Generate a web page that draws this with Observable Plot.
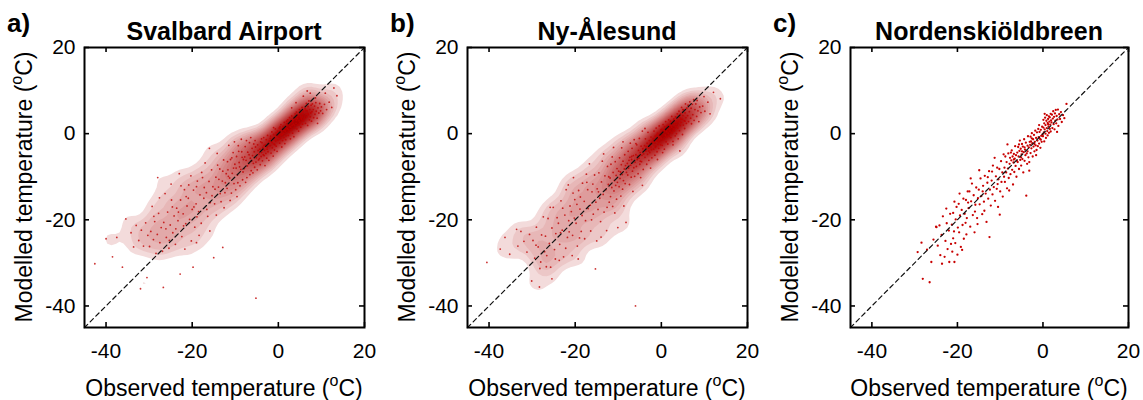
<!DOCTYPE html>
<html><head><meta charset="utf-8">
<script src="https://cdn.jsdelivr.net/npm/d3@7"></script>
<script src="https://cdn.jsdelivr.net/npm/@observablehq/plot@0.6"></script>
<style>
body{margin:0;background:#fff;}
#wrap{position:relative;width:1143px;height:400px;overflow:hidden;font-family:"Liberation Sans",Arial,sans-serif;}
#wrap svg{position:absolute;top:0;overflow:visible;}
</style></head><body><div id="wrap"></div>
<script>
// ---- axis / label values ----
const axisDomain = [-45, 20];
const tickValues = [-40, -20, 0, 20];
const panelLetters = ["a)", "b)", "c)"];
const stationNames = ["Svalbard Airport", "Ny-Ålesund", "Nordenskiöldbreen"];
const xTitleParts = ["Observed temperature (", "o", "C)"];
const yTitleParts = ["Modelled temperature (", "o", "C)"];
const oneToOne = [-45, 20];

// ---- data: [observed, modelled] (°C) ----
const svalbardAirport = [
[-5.8,-6.9],[-5.6,-4.2],[-5.5,-7.8],[-5.3,-3.1],[-5.1,-5.6],[-4.9,-8.4],[-4.8,-2.6],[-4.6,-6.1],[-4.5,-4.7],[-4.3,-3.6],[-4.2,-7.2],[-4.1,-1.9],[-4.0,-5.3],[-5.9,-9.1],[-5.7,-2.4],[-5.2,-6.6],[-4.7,-3.9],[-4.4,-5.8],[-6.0,-5.1],[-5.4,-1.6],
[-3.9,-4.4],[-3.8,-2.1],[-3.7,-6.3],[-3.6,-3.2],[-3.4,-0.9],[-3.3,-5.1],[-3.2,-3.9],[-3.1,-7.4],[-3.0,-2.6],[-2.9,-4.6],[-2.8,-1.4],[-2.7,-5.7],[-2.6,-3.1],[-2.5,-0.4],[-2.4,-4.2],[-2.3,-2.3],[-2.2,-6.2],[-2.1,-1.7],[-3.5,-4.9],[-3.9,-1.2],[-2.6,-3.6],[-3.3,-2.7],
[-1.9,-2.8],[-1.8,-0.6],[-1.7,-4.5],[-1.6,-1.9],[-1.5,0.4],[-1.4,-3.3],[-1.3,-1.2],[-1.2,-5.2],[-1.1,-0.2],[-1.0,-2.4],[-0.9,-3.8],[-0.8,-0.9],[-0.7,1.1],[-0.6,-1.7],[-0.5,-2.9],[-0.4,-0.4],[-0.3,-4.1],[-0.2,0.6],[-0.1,-1.5],[-1.9,-1.1],[-1.4,-2.1],[-0.8,-2.6],[-0.5,0.2],[-1.1,1.4],
[0.1,-0.8],[0.2,1.3],[0.3,-2.2],[0.4,0.2],[0.5,-1.1],[0.6,2.1],[0.7,-0.3],[0.8,-3.1],[0.9,0.9],[1.0,-1.6],[1.1,1.7],[1.2,0.1],[1.3,-0.9],[1.4,2.6],[1.5,-2.3],[1.6,0.6],[1.7,1.4],[1.8,-0.5],[1.9,2.9],[0.4,1.6],[0.9,-0.2],[1.3,0.8],[1.7,-1.4],[0.2,-0.1],
[2.1,1.1],[2.2,3.2],[2.3,-0.4],[2.4,2.1],[2.5,0.3],[2.6,3.7],[2.7,1.6],[2.8,-1.2],[2.9,2.5],[3.0,0.9],[3.1,4.1],[3.2,1.9],[3.3,0.1],[3.4,3.0],[3.5,2.2],[3.6,-0.7],[3.7,3.6],[3.8,1.3],[3.9,4.6],[2.4,0.9],[2.9,1.5],[3.3,2.7],[3.7,2.0],[2.0,2.3],
[4.1,2.4],[4.2,5.0],[4.3,1.1],[4.4,3.5],[4.5,2.0],[4.6,4.3],[4.7,0.6],[4.8,3.0],[4.9,5.6],[5.0,2.6],[5.1,3.9],[5.2,1.5],[5.3,4.7],[5.4,3.3],[5.5,6.1],[5.6,2.2],[5.7,4.1],[5.8,3.0],[5.9,5.3],[4.4,4.0],[4.9,2.1],[5.3,3.6],[5.7,5.0],[4.2,3.1],
[6.1,3.6],[6.2,5.8],[6.3,2.4],[6.4,4.6],[6.5,7.0],[6.6,3.9],[6.7,5.3],[6.8,1.9],[6.9,6.3],[7.0,4.4],[7.1,7.6],[7.2,3.2],[7.3,5.6],[7.4,9.4],[7.5,4.8],[7.6,6.6],[7.7,2.9],[7.8,5.1],[7.9,6.9],[6.4,5.4],[6.9,4.7],[7.4,3.9],
[8.1,5.6],[8.2,3.7],[8.4,6.4],[8.5,4.5],[8.7,7.2],[8.8,5.2],[9.0,3.6],[9.2,6.0],[9.4,4.8],[9.6,7.0],[9.8,5.3],[10.0,6.2],[8.6,8.3],[9.1,2.4],
[10.3,4.7],[10.7,6.8],[11.2,5.6],[11.8,7.3],[12.4,6.1],[12.9,10.6],[13.6,8.8],[10.9,9.4],[5.8,8.7],[6.7,9.9],[4.1,7.2],[3.1,6.0],
[-6.1,-3.4],[-6.3,-8.6],[-6.5,-5.7],[-6.7,-2.1],[-6.9,-7.0],[-7.1,-4.3],[-7.3,-10.2],[-7.5,-6.2],[-7.7,-3.0],[-7.9,-8.1],[-6.2,-6.4],[-6.8,-4.9],[-7.4,-1.6],[-7.8,-5.4],[-6.6,-9.5],[-7.2,-7.5],[-6.4,-0.9],[-7.6,-11.3],
[-8.1,-6.0],[-8.3,-10.7],[-8.5,-4.2],[-8.7,-8.3],[-8.9,-12.1],[-9.1,-6.7],[-9.3,-2.8],[-9.5,-9.6],[-9.7,-5.3],[-9.9,-13.0],[-8.2,-8.9],[-8.6,-1.3],[-9.0,-7.7],[-9.4,-11.4],[-9.8,-8.0],[-8.4,-5.5],[-9.2,-4.1],[-9.6,-14.6],
[-10.1,-7.1],[-10.3,-11.6],[-10.5,-4.4],[-10.7,-9.2],[-10.9,-13.8],[-11.1,-6.0],[-11.3,-10.3],[-11.5,-2.7],[-11.7,-8.4],[-11.9,-12.7],[-10.4,-8.0],[-10.8,-5.6],[-11.2,-15.5],[-11.6,-9.9],[-10.2,-1.9],[-11.8,-6.5],
[-12.1,-9.3],[-12.4,-13.7],[-12.7,-6.1],[-13.0,-11.0],[-13.3,-15.8],[-13.6,-8.2],[-13.9,-12.4],[-14.2,-4.6],[-14.5,-10.1],[-14.8,-16.3],[-12.3,-11.4],[-12.9,-8.7],[-13.5,-13.9],[-14.1,-7.3],[-14.7,-12.9],[-12.6,-17.2],[-13.8,-10.6],[-14.4,-18.9],
[-15.2,-12.3],[-15.5,-8.4],[-15.8,-16.0],[-16.1,-11.1],[-16.4,-19.2],[-16.7,-13.7],[-17.0,-6.8],[-17.3,-15.0],[-17.6,-10.2],[-17.9,-20.8],[-15.4,-14.4],[-16.0,-3.4],[-16.6,-17.6],[-17.2,-12.5],[-17.8,-9.0],[-15.9,-22.6],
[-18.2,-14.2],[-18.5,-18.1],[-18.8,-11.0],[-19.1,-16.3],[-19.4,-21.7],[-19.7,-13.1],[-20.0,-17.6],[-20.3,-9.8],[-20.6,-19.9],[-20.9,-15.0],[-18.4,-23.6],[-19.0,-12.3],[-19.6,-17.0],[-20.2,-24.9],[-20.8,-11.9],[-18.9,-19.3],
[-21.2,-16.8],[-21.5,-20.9],[-21.8,-13.0],[-22.1,-18.6],[-22.4,-23.9],[-22.7,-15.4],[-23.0,-9.3],[-23.3,-20.2],[-23.6,-17.3],[-23.9,-25.7],[-21.4,-14.6],[-22.0,-21.4],[-22.6,-12.1],[-23.2,-18.2],[-23.8,-22.1],[-21.7,-26.8],
[-24.2,-19.1],[-24.5,-23.0],[-24.8,-15.4],[-25.1,-21.2],[-25.4,-26.6],[-25.7,-18.2],[-26.0,-24.1],[-26.3,-13.9],[-26.6,-20.6],[-26.9,-27.3],[-24.6,-17.0],[-25.3,-24.8],[-26.1,-22.1],[-24.9,-11.7],
[-27.2,-21.8],[-27.5,-25.3],[-27.8,-18.5],[-28.1,-23.4],[-28.4,-27.8],[-28.7,-20.4],[-29.0,-24.6],[-29.3,-16.9],[-29.6,-22.7],[-29.9,-26.2],[-27.6,-14.9],[-28.9,-19.2],
[-30.3,-23.6],[-30.8,-20.7],[-31.3,-26.1],[-31.8,-22.4],[-32.4,-24.8],[-33.0,-21.3],[-33.6,-26.3],[-34.2,-23.0],
[-42.6,-30.2],[-40.0,-24.4],[-37.5,-24.1],[-38.5,-28.6],[-36.2,-31.0],[-35.4,-19.8],[-30.5,-33.4],[-15.0,-28.8],[-5.2,-38.2],[-19.0,-25.3],[-28.0,-10.2],[-22.8,-32.6],[-26.7,-35.7],[-32.0,-36.0],[-12.9,-26.4],[-19.8,-31.0]
];

const nyAlesund = [
[6.1,4.2],[6.2,6.6],[6.3,2.8],[6.5,5.1],[6.6,7.4],[6.8,3.6],[6.9,5.9],[7.0,2.3],[7.2,6.8],[7.3,4.4],[7.5,7.9],[7.6,3.1],[7.8,5.6],[8.0,6.9],[8.2,4.0],[8.3,7.7],[8.5,5.3],[8.7,2.8],[8.9,6.2],[9.2,4.9],
[9.6,6.4],[10.1,5.2],[10.8,7.3],[12.1,9.6],[13.7,8.1],[9.9,8.6],[11.3,4.6],
[4.0,2.9],[4.1,5.2],[4.2,0.7],[4.3,3.8],[4.4,1.9],[4.5,4.6],[4.6,2.6],[4.7,6.1],[4.8,3.3],[4.9,-0.2],[5.0,4.2],[5.1,2.0],[5.2,5.5],[5.3,3.0],[5.4,1.2],[5.5,4.8],[5.6,6.9],[5.7,3.7],[5.8,2.4],[5.9,5.9],[4.5,3.4],[5.0,5.6],[5.5,2.9],[4.3,-4.0],
[2.0,0.6],[2.1,2.9],[2.2,-0.9],[2.3,1.8],[2.4,4.0],[2.5,0.2],[2.6,2.5],[2.7,-1.8],[2.8,1.1],[2.9,3.4],[3.0,0.7],[3.1,2.2],[3.2,-0.5],[3.3,3.9],[3.4,1.6],[3.5,0.0],[3.6,2.8],[3.7,4.6],[3.8,1.3],[3.9,-1.2],[2.4,1.5],[3.0,3.0],[3.5,2.1],[2.7,-2.6],
[0.0,-1.1],[0.1,1.0],[0.2,-2.7],[0.3,0.2],[0.4,2.1],[0.5,-1.4],[0.6,0.7],[0.7,-3.6],[0.8,1.6],[0.9,-0.3],[1.0,2.8],[1.1,-1.9],[1.2,0.5],[1.3,-0.8],[1.4,1.9],[1.5,-2.4],[1.6,0.1],[1.7,3.2],[1.8,-0.6],[1.9,1.2],[0.5,0.3],[1.0,-0.5],[1.5,1.0],[0.3,-4.4],
[-1.9,-1.2],[-1.8,-3.6],[-1.7,0.6],[-1.6,-2.1],[-1.5,-5.0],[-1.4,-0.6],[-1.3,-2.9],[-1.2,1.3],[-1.1,-1.7],[-1.0,-4.2],[-0.9,0.1],[-0.8,-2.5],[-0.7,-0.9],[-0.6,-3.4],[-0.5,1.8],[-0.4,-1.4],[-0.3,-0.1],[-0.2,-2.6],[-0.1,0.9],[-1.7,-1.6],[-1.1,-0.3],[-0.6,-1.9],[-1.4,-3.2],[-0.9,-6.0],
[-3.9,-2.8],[-3.8,-5.5],[-3.7,-1.2],[-3.6,-4.0],[-3.4,-7.1],[-3.3,-2.2],[-3.2,-4.8],[-3.1,0.3],[-3.0,-3.3],[-2.9,-6.2],[-2.8,-1.6],[-2.7,-4.4],[-2.6,-2.5],[-2.5,-8.0],[-2.4,-0.8],[-2.3,-3.7],[-2.2,-5.6],[-2.1,-2.0],[-3.5,-3.0],[-2.9,-4.0],[-3.8,1.2],[-2.4,-3.1],
[-5.9,-4.9],[-5.8,-7.6],[-5.7,-2.6],[-5.6,-6.0],[-5.4,-9.3],[-5.3,-3.9],[-5.2,-5.7],[-5.1,-1.1],[-5.0,-7.1],[-4.9,-4.4],[-4.8,-10.2],[-4.7,-2.9],[-4.6,-6.5],[-4.5,-5.0],[-4.4,0.6],[-4.3,-3.5],[-4.2,-8.3],[-4.1,-4.7],[-5.5,-5.2],[-4.9,-6.4],[-5.9,-2.3],[-4.4,-12.0],
[-7.9,-6.9],[-7.8,-9.6],[-7.7,-4.1],[-7.6,-8.0],[-7.4,-11.8],[-7.3,-5.5],[-7.2,-2.2],[-7.1,-7.3],[-7.0,-10.1],[-6.9,-6.0],[-6.8,-3.4],[-6.7,-8.7],[-6.6,-13.4],[-6.5,-5.1],[-6.4,-7.9],[-6.3,-1.4],[-6.2,-9.9],[-6.1,-6.6],[-7.5,-6.2],[-6.9,-5.3],
[-9.9,-8.7],[-9.8,-12.3],[-9.7,-5.6],[-9.6,-10.4],[-9.4,-14.5],[-9.3,-7.2],[-9.2,-3.3],[-9.1,-9.5],[-9.0,-12.9],[-8.9,-6.4],[-8.8,-10.9],[-8.7,-16.8],[-8.6,-8.2],[-8.5,-4.9],[-8.4,-11.6],[-8.3,-7.4],[-8.2,-20.6],[-8.1,-9.0],[-9.5,-8.9],[-8.9,-1.9],
[-11.9,-10.3],[-11.8,-14.6],[-11.7,-7.1],[-11.5,-12.5],[-11.3,-16.9],[-11.2,-9.0],[-11.1,-3.2],[-11.0,-13.3],[-10.9,-10.9],[-10.8,-18.4],[-10.7,-6.5],[-10.6,-12.0],[-10.4,-15.2],[-10.3,-8.1],[-10.2,-11.3],[-10.1,-21.8],[-11.4,-5.4],[-10.5,-9.7],
[-14.9,-12.8],[-14.7,-17.6],[-14.5,-9.1],[-14.3,-15.0],[-14.1,-20.4],[-13.9,-11.2],[-13.7,-6.4],[-13.5,-14.1],[-13.3,-18.2],[-13.1,-9.8],[-12.9,-13.0],[-12.7,-22.5],[-12.5,-7.6],[-12.3,-11.8],[-12.1,-15.9],[-14.0,-24.0],[-13.4,-4.7],[-12.6,-17.1],[-14.6,-13.5],[-12.2,-10.0],
[-17.9,-15.7],[-17.6,-20.2],[-17.3,-11.3],[-17.0,-17.4],[-16.7,-7.0],[-16.4,-22.6],[-16.1,-13.5],[-15.8,-18.7],[-15.5,-9.6],[-15.2,-15.9],[-15.0,-24.9],[-17.8,-24.4],[-17.1,-13.0],[-16.5,-16.6],[-15.9,-11.7],[-15.3,-31.4],[-17.4,-9.4],[-16.2,-20.0],
[-20.9,-18.1],[-20.6,-23.6],[-20.4,-10.2],[-20.1,-15.3],[-19.8,-20.8],[-19.5,-26.1],[-19.2,-13.2],[-18.9,-17.5],[-18.6,-22.7],[-18.3,-11.5],[-20.7,-28.3],[-20.2,-19.6],[-19.6,-16.4],[-19.0,-24.2],[-18.4,-19.0],[-20.5,-13.8],[-19.3,-29.1],[-18.8,-14.7],
[-23.9,-20.8],[-23.6,-25.7],[-23.3,-15.6],[-23.0,-22.4],[-22.7,-28.6],[-22.4,-18.9],[-22.1,-13.0],[-21.8,-24.1],[-21.5,-20.2],[-21.2,-16.8],[-23.7,-29.4],[-22.9,-17.3],[-22.2,-26.6],[-21.6,-11.9],[-23.4,-23.0],[-21.4,-22.8],
[-26.9,-23.8],[-26.6,-28.3],[-26.3,-19.7],[-26.0,-25.5],[-25.7,-31.0],[-25.4,-21.9],[-25.1,-17.1],[-24.8,-26.9],[-24.5,-23.2],[-24.2,-19.5],[-25.8,-17.1],[-26.7,-30.9],[-25.4,-33.7],[-24.6,-29.1],
[-29.8,-24.8],[-29.4,-28.9],[-29.0,-21.7],[-28.6,-26.3],[-28.2,-31.3],[-27.8,-23.5],[-27.4,-19.3],[-27.1,-27.4],[-29.1,-25.9],[-28.0,-29.8],
[-30.1,-34.2],[-30.6,-23.4],[-31.2,-27.5],[-31.9,-25.0],[-32.6,-22.7],[-33.3,-26.1],[-33.6,-22.2],
[-40.5,-29.9],[-37.4,-26.8],[-36.3,-24.1],[-35.2,-28.0],[-6.0,-40.0],[-28.3,-35.6]
];

const nordenskioldbreen = [
[2.0,2.6],[2.1,4.4],[2.2,1.3],[2.3,3.5],[2.4,5.2],[2.5,2.2],[2.6,3.9],[2.7,1.0],[2.8,4.7],[2.9,3.0],[3.0,5.5],[3.1,2.4],[3.2,4.1],[3.4,3.3],[3.5,5.6],[3.6,1.8],[3.8,4.5],[4.0,3.4],[4.2,5.0],[4.4,2.7],[4.7,4.3],[5.0,3.6],[5.5,6.9],[3.3,0.4],
[0.0,-0.6],[0.1,1.4],[0.1,3.2],[0.2,0.3],[0.3,2.4],[0.3,-1.8],[0.4,1.0],[0.5,3.7],[0.6,0.0],[0.6,2.0],[0.7,-1.0],[0.8,3.0],[0.9,1.3],[0.9,4.3],[1.0,0.6],[1.1,2.5],[1.1,-0.4],[1.2,3.4],[1.3,1.7],[1.4,4.0],[1.4,0.2],[1.5,2.8],[1.6,1.1],[1.6,3.8],[1.7,2.1],[1.8,0.5],[1.8,4.6],[1.9,3.1],[1.2,2.2],[0.4,4.6],
[-3.0,-2.6],[-2.9,-0.7],[-2.9,-4.5],[-2.8,-1.8],[-2.7,-3.4],[-2.6,0.1],[-2.5,-2.2],[-2.4,-5.3],[-2.3,-1.3],[-2.2,-3.0],[-2.1,-0.3],[-2.0,-4.1],[-1.9,-1.9],[-1.8,0.7],[-1.7,-2.7],[-1.6,-1.0],[-1.5,-3.8],[-1.4,0.3],[-1.3,-1.6],[-1.2,-2.9],[-1.1,1.1],[-1.0,-0.8],[-0.9,-2.3],[-0.8,0.4],[-0.7,-1.2],[-0.6,-3.3],[-0.5,0.9],[-0.4,-0.5],[-0.3,-1.9],[-0.2,1.6],[-0.1,-0.2],[-1.6,-5.0],[-0.9,2.0],[-2.6,-1.1],[-0.5,-1.4],[-2.0,-2.4],
[-6.0,-4.4],[-5.9,-6.6],[-5.8,-3.1],[-5.7,-5.3],[-5.6,-8.2],[-5.5,-4.0],[-5.4,-1.6],[-5.3,-6.1],[-5.2,-3.5],[-5.1,-7.4],[-5.0,-4.8],[-4.9,-2.4],[-4.8,-5.9],[-4.7,-3.0],[-4.6,-9.0],[-4.5,-4.3],[-4.4,-1.3],[-4.3,-6.3],[-4.2,-3.7],[-4.1,-5.0],[-4.0,-2.1],[-3.9,-14.4],[-3.8,-4.6],[-3.7,-7.0],[-3.6,-2.8],[-3.5,-0.6],[-3.4,-5.5],[-3.3,-3.2],[-3.2,-6.6],[-3.1,-1.9],[-5.6,-2.5],[-4.9,-4.1],[-4.3,-3.2],[-3.6,-4.1],[-5.1,-5.5],[-3.2,-8.6],
[-9.0,-7.9],[-8.9,-11.2],[-8.8,-5.3],[-8.6,-9.0],[-8.5,-6.6],[-8.4,-12.7],[-8.2,-8.1],[-8.1,-4.6],[-8.0,-10.3],[-7.8,-7.0],[-7.7,-5.6],[-7.6,-9.4],[-7.4,-6.2],[-7.3,-3.9],[-7.2,-8.4],[-7.1,-5.3],[-7.0,-11.8],[-6.9,-6.7],[-6.8,-4.7],[-6.7,-8.9],[-6.6,-5.8],[-6.5,-2.9],[-6.4,-7.5],[-6.3,-5.0],[-6.2,-10.0],[-6.1,-6.3],[-7.5,-4.4],[-8.3,-2.5],[-6.8,-6.0],[-7.9,-13.2],
[-12.0,-10.9],[-11.8,-14.1],[-11.7,-7.4],[-11.5,-12.4],[-11.3,-5.6],[-11.2,-15.6],[-11.0,-9.9],[-10.8,-12.8],[-10.7,-7.9],[-10.5,-17.0],[-10.4,-10.6],[-10.2,-8.2],[-10.1,-18.8],[-10.0,-13.4],[-9.8,-6.4],[-9.7,-11.2],[-9.5,-9.0],[-9.4,-14.6],[-9.2,-4.8],[-9.1,-10.0],[-11.9,-8.8],[-10.6,-11.7],
[-15.0,-13.0],[-14.8,-16.4],[-14.6,-10.4],[-14.4,-14.5],[-14.2,-18.7],[-14.0,-12.1],[-13.8,-15.8],[-13.6,-9.8],[-13.4,-13.9],[-13.2,-20.5],[-13.0,-11.4],[-12.8,-15.1],[-12.6,-8.7],[-12.5,-24.0],[-12.4,-13.0],[-12.2,-16.7],[-14.9,-8.5],[-13.7,-17.9],[-12.9,-10.1],[-14.1,-13.4],
[-18.0,-15.4],[-17.8,-19.6],[-17.6,-13.4],[-17.4,-17.3],[-17.2,-13.4],[-17.0,-21.6],[-16.8,-15.7],[-16.6,-11.6],[-16.4,-18.9],[-16.2,-14.3],[-16.0,-22.9],[-15.8,-16.5],[-15.6,-12.5],[-15.4,-19.6],[-15.2,-15.0],[-17.9,-23.4],[-16.9,-10.4],[-15.9,-18.1],[-17.5,-16.0],[-15.3,-21.0],
[-21.0,-18.4],[-20.8,-22.7],[-20.7,-15.8],[-20.5,-25.4],[-20.4,-19.9],[-20.2,-17.0],[-20.0,-28.1],[-19.9,-21.8],[-19.7,-16.3],[-19.6,-22.9],[-19.4,-19.0],[-19.2,-26.3],[-19.0,-17.7],[-18.8,-21.2],[-18.6,-15.1],[-18.5,-24.4],[-18.3,-18.6],[-18.1,-20.7],[-20.7,-29.8],[-19.5,-13.9],[-21.0,-24.3],[-18.9,-27.0],
[-24.9,-21.7],[-24.6,-26.0],[-24.2,-21.3],[-24.0,-28.2],[-23.7,-23.5],[-23.4,-19.2],[-23.0,-28.6],[-22.8,-24.9],[-22.5,-20.8],[-22.3,-26.8],[-22.0,-22.5],[-21.9,-29.8],[-21.7,-18.6],[-21.5,-25.6],[-21.3,-21.1],[-23.6,-30.2],[-22.6,-17.4],[-21.2,-27.4],
[-25.0,-21.6],[-25.6,-24.6],[-26.1,-29.8],[-26.5,-34.5],[-27.1,-26.9],[-28.1,-33.7],[-28.4,-25.3],[-29.3,-27.5]
];

// ---- layout ----
const panels = [
  {data: svalbardAirport,  left: 0,   frameWidth: 280, right: 16, r: 0.9, fill: "#c00000", opacity: 0.8, density: true},
  {data: nyAlesund,        left: 383, frameWidth: 280, right: 16, r: 0.9, fill: "#c00000", opacity: 0.8, density: true},
  {data: nordenskioldbreen,left: 766, frameWidth: 278, right: 15, r: 1.15, fill: "#c80000", opacity: 1, density: false}
];
const ML = 84, MT = 47, MB = 73, H = 400;
const FH = H - MT - MB;
const font = "'Liberation Sans', Arial, sans-serif";

const wrap = document.getElementById("wrap");
panels.forEach((p, i) => {
  const W = ML + p.frameWidth + p.right;
  const FW = p.frameWidth;
  const marks = [];
  if (p.density) {
    marks.push(Plot.density(p.data, {x: d => d[0], y: d => d[1], fill: "density", bandwidth: 5.5, thresholds: 24, stroke: null}));
  }
  marks.push(
    Plot.dot(p.data, {x: d => d[0], y: d => d[1], r: p.r, fill: p.fill, fillOpacity: p.opacity, stroke: null}),
    Plot.line(oneToOne.map(v => [v, v]), {x: d => d[0], y: d => d[1], stroke: "#111", strokeWidth: 1.2, strokeDasharray: "4.5,3.5"}),
    Plot.tickX(tickValues, {x: d => d, insetTop: FH - 5, stroke: "black", strokeWidth: 1.6}),
    Plot.tickX(tickValues, {x: d => d, insetBottom: FH - 5, stroke: "black", strokeWidth: 1.6}),
    Plot.tickY(tickValues, {y: d => d, insetRight: FW - 5, stroke: "black", strokeWidth: 1.6}),
    Plot.tickY(tickValues, {y: d => d, insetLeft: FW - 5, stroke: "black", strokeWidth: 1.6}),
    Plot.frame({stroke: "black", strokeWidth: 2}),
    Plot.axisX({ticks: tickValues, tickSize: 0, tickPadding: 16, fontSize: 21, tickFormat: d => String(d), label: null}),
    Plot.axisY({ticks: tickValues, tickSize: 0, tickPadding: 9, fontSize: 21, tickFormat: d => String(d), label: null})
  );
  const svg = Plot.plot({
    width: W, height: H,
    marginLeft: ML, marginRight: p.right, marginTop: MT, marginBottom: MB,
    x: {domain: axisDomain},
    y: {domain: axisDomain},
    color: {type: "pow", exponent: 0.62, range: ["#ffffff", "#aa0000"], interpolate: "rgb"},
    style: {fontFamily: font, background: "transparent", color: "black"},
    marks
  });
  svg.style.left = p.left + "px";
  const s = d3.select(svg);
  const cx = ML + FW / 2;
  s.append("text").attr("x", ML - 77).attr("y", 32).attr("text-anchor", "start").attr("font-family", font)
    .attr("font-weight", "bold").attr("font-size", 26).attr("fill", "black").text(panelLetters[i]);
  s.append("text").attr("x", cx).attr("y", 40).attr("text-anchor", "middle").attr("font-family", font)
    .attr("font-weight", "bold").attr("font-size", 25).attr("fill", "black").text(stationNames[i]);
  const xt = s.append("text").attr("x", cx).attr("y", 396).attr("text-anchor", "middle")
    .attr("font-family", font).attr("font-size", 23).attr("fill", "black");
  xt.append("tspan").text(xTitleParts[0]);
  xt.append("tspan").attr("font-size", 16).attr("dy", -10).text(xTitleParts[1]);
  xt.append("tspan").attr("dy", 10).text(xTitleParts[2]);
  const yt = s.append("text").attr("transform", `translate(${ML - 52},${MT + FH / 2}) rotate(-90)`)
    .attr("text-anchor", "middle").attr("font-family", font).attr("font-size", 23).attr("fill", "black");
  yt.append("tspan").text(yTitleParts[0]);
  yt.append("tspan").attr("font-size", 16).attr("dy", -10).text(yTitleParts[1]);
  yt.append("tspan").attr("dy", 10).text(yTitleParts[2]);
  wrap.appendChild(svg);
});
</script></body></html>
